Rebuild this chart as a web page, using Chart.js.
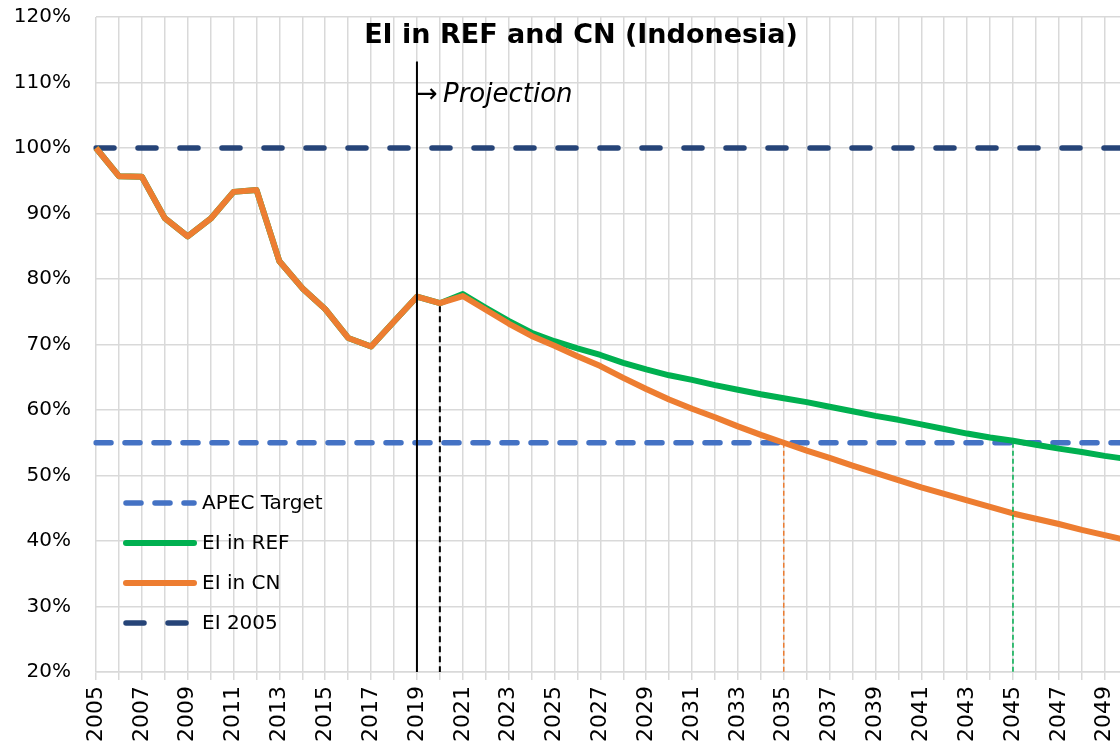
<!DOCTYPE html>
<html>
<head>
<meta charset="utf-8">
<script src="https://cdn.jsdelivr.net/npm/chart.js@4.4.1/dist/chart.umd.min.js"></script>
<style>
html,body{margin:0;padding:0;background:#fff;overflow:hidden;width:1120px;height:746px}
#wrap{position:relative;width:1160px;height:746px}
canvas{display:block}
</style>
</head>
<body>
<div id="wrap"><canvas id="c" width="1160" height="746"></canvas></div>
<script>
const years = ['2005','2006','2007','2008','2009','2010','2011','2012','2013','2014','2015','2016','2017','2018','2019','2020','2021','2022','2023','2024','2025','2026','2027','2028','2029','2030','2031','2032','2033','2034','2035','2036','2037','2038','2039','2040','2041','2042','2043','2044','2045','2046','2047','2048','2049','2050'];

const eiCN = [100.0,95.7,95.6,89.3,86.5,89.2,93.3,93.6,82.7,78.6,75.4,71.0,69.7,73.5,77.3,76.3,77.4,75.3,73.2,71.3,69.8,68.2,66.7,64.9,63.2,61.6,60.2,58.9,57.5,56.2,55.0,53.8,52.7,51.5,50.4,49.3,48.2,47.2,46.2,45.2,44.2,43.4,42.6,41.7,40.9,40.1];

const eiREF = [100.0,95.7,95.6,89.3,86.5,89.2,93.3,93.6,82.7,78.6,75.4,71.0,69.7,73.5,77.3,76.3,77.7,75.6,73.6,71.8,70.5,69.4,68.4,67.2,66.2,65.3,64.6,63.8,63.1,62.4,61.8,61.2,60.5,59.8,59.1,58.5,57.8,57.1,56.4,55.8,55.3,54.7,54.1,53.6,53.0,52.5];

const apecTarget = [55,55,55,55,55,55,55,55,55,55,55,55,55,55,55,55,55,55,55,55,55,55,55,55,55,55,55,55,55,55,55,55,55,55,55,55,55,55,55,55,55,55,55,55,55,55];

const ei2005 = [100,100,100,100,100,100,100,100,100,100,100,100,100,100,100,100,100,100,100,100,100,100,100,100,100,100,100,100,100,100,100,100,100,100,100,100,100,100,100,100,100,100,100,100,100,100];

const yTicks = [20,30,40,50,60,70,80,90,100,110,120];

const projectionYear = '2019';
const projectionTop = 113.2;
const lastHistYear = '2020';
const cnTargetYear = '2035';
const refTargetYear = '2045';
const targetValue = 55;

const titleText = 'EI in REF and CN (Indonesia)';
const projectionText = 'Projection';

const FONT = "'DejaVu Sans', sans-serif";

const datasets = [
  {label:'EI in CN', data:eiCN, borderColor:'#ED7D31', backgroundColor:'#ED7D31', borderWidth:6, order:0},
  {label:'EI in REF', data:eiREF, borderColor:'#00B050', backgroundColor:'#00B050', borderWidth:6, order:1},
  {label:'EI 2005', data:ei2005, borderColor:'#264478', backgroundColor:'#264478', borderWidth:5.5, borderDash:[18,24], borderCapStyle:'round', order:2},
  {label:'APEC Target', data:apecTarget, borderColor:'#4472C4', backgroundColor:'#4472C4', borderWidth:5.5, borderDash:[15,14], borderCapStyle:'round', order:3}
];
datasets.forEach(d => { d.pointRadius = 0; d.pointHoverRadius = 0; d.tension = 0; d.borderJoinStyle = 'round'; d.fill = false; });

const legendOrder = ['APEC Target','EI in REF','EI in CN','EI 2005'];

const overlay = {
  id:'overlay',
  afterDatasetsDraw(chart){
    const ctx = chart.ctx, x = chart.scales.x, y = chart.scales.y;
    const bottom = chart.chartArea.bottom;
    ctx.save();
    ctx.strokeStyle = '#000'; ctx.lineWidth = 2; ctx.setLineDash([]);
    let px = x.getPixelForValue(years.indexOf(projectionYear));
    ctx.beginPath(); ctx.moveTo(px, y.getPixelForValue(projectionTop)); ctx.lineTo(px, bottom); ctx.stroke();
    const ih = years.indexOf(lastHistYear);
    px = x.getPixelForValue(ih);
    ctx.setLineDash([6,4]); ctx.lineWidth = 2;
    ctx.beginPath(); ctx.moveTo(px, y.getPixelForValue(eiCN[ih]) + 3); ctx.lineTo(px, bottom); ctx.stroke();
    ctx.lineWidth = 1.5; ctx.setLineDash([5,3]);
    ctx.strokeStyle = '#ED7D31';
    px = x.getPixelForValue(years.indexOf(cnTargetYear));
    ctx.beginPath(); ctx.moveTo(px, y.getPixelForValue(targetValue)); ctx.lineTo(px, bottom); ctx.stroke();
    ctx.strokeStyle = '#00B050';
    px = x.getPixelForValue(years.indexOf(refTargetYear));
    ctx.beginPath(); ctx.moveTo(px, y.getPixelForValue(targetValue)); ctx.lineTo(px, bottom); ctx.stroke();
    ctx.setLineDash([]);
    ctx.fillStyle = '#000';
    ctx.textBaseline = 'alphabetic'; ctx.textAlign = 'left';
    ctx.font = "26px " + FONT;
    ctx.fillText('\u2192', x.getPixelForValue(years.indexOf(projectionYear)) - 1, 102);
    ctx.font = "italic 26px " + FONT;
    ctx.fillText(projectionText, 443, 102);
    ctx.font = "bold 27px " + FONT;
    ctx.textAlign = 'center';
    ctx.fillText(titleText, 581, 43);
    ctx.textAlign = 'left'; ctx.textBaseline = 'middle';
    ctx.font = "20px " + FONT;
    const ys = [503, 543, 583, 623];
    legendOrder.forEach((name, i) => {
      const d = chart.data.datasets.find(s => s.label === name);
      ctx.save();
      ctx.strokeStyle = d.borderColor; ctx.lineWidth = d.borderWidth;
      ctx.lineCap = 'round';
      ctx.setLineDash(d.borderDash || []);
      ctx.beginPath(); ctx.moveTo(126, ys[i]); ctx.lineTo(194, ys[i]); ctx.stroke();
      ctx.restore();
      ctx.fillStyle = '#000';
      ctx.fillText(name, 202, ys[i] + 1);
    });
    ctx.restore();
  }
};

new Chart(document.getElementById('c'), {
  type:'line',
  data:{labels:years, datasets:datasets},
  options:{
    responsive:false,
    animation:false,
    events:[],
    layout:{padding:{top:17, right:0, bottom:0, left:0}},
    plugins:{legend:{display:false}, title:{display:false}, tooltip:{enabled:false}},
    scales:{
      x:{
        type:'category',
        offset:false,
        grid:{color:'#d9d9d9', lineWidth:1.5, tickLength:8, drawTicks:true},
        border:{color:'#d9d9d9', width:1.5},
        ticks:{
          autoSkip:false, maxRotation:90, minRotation:90, padding:6,
          color:'#000', font:{family:FONT, size:22},
          callback:function(v, i){ return i % 2 === 0 ? years[i] : ''; }
        },
        afterFit:function(s){ s.height = 74; }
      },
      y:{
        min:20, max:120,
        afterBuildTicks:function(s){ s.ticks = yTicks.map(v => ({value:v})); },
        grid:{color:'#d9d9d9', lineWidth:1.5, drawTicks:true, tickLength:25, tickColor:'rgba(0,0,0,0)'},
        border:{display:false},
        ticks:{padding:0, color:'#000', font:{family:FONT, size:20}, callback:v => v + '%'},
        afterFit:function(s){ s.width = 96; }
      }
    }
  },
  plugins:[overlay]
});
</script>
</body>
</html>
